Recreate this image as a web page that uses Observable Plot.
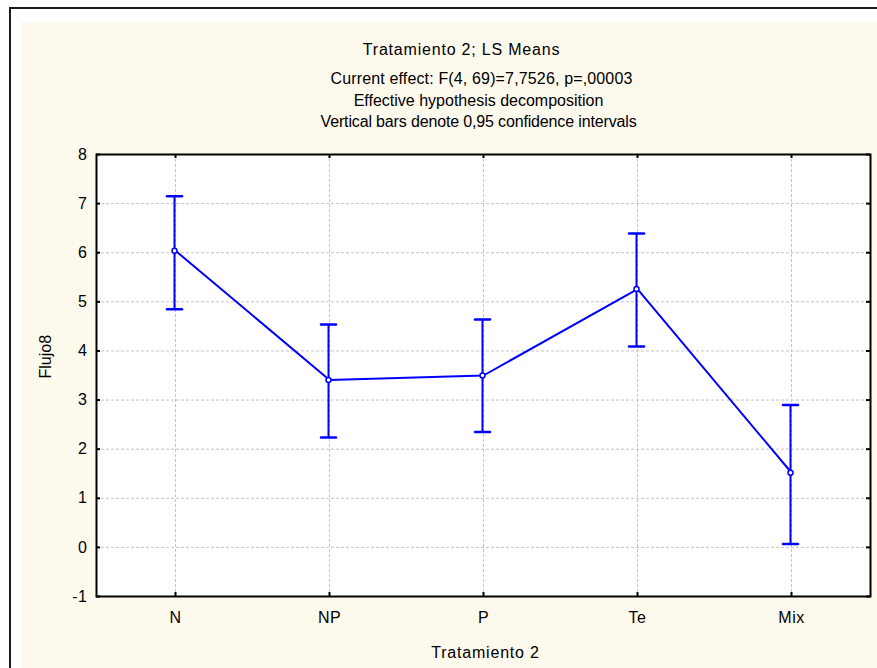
<!DOCTYPE html>
<html>
<head>
<meta charset="utf-8">
<script src="https://cdn.jsdelivr.net/npm/d3@7"></script>
<script src="https://cdn.jsdelivr.net/npm/@observablehq/plot@0.6"></script>
<style>
  html, body { margin: 0; padding: 0; overflow: hidden; background: white; }
  #wrap { position: relative; width: 877px; height: 668px; }
  #border { position: absolute; left: 9px; top: 7px; width: 900px; height: 700px;
            border-left: 2px solid #1a1a1a; border-top: 2px solid #1a1a1a; background: white; }
  #cream { position: absolute; left: 21px; top: 22px; width: 900px; height: 700px; background: #FEF9ED; }
  #chart { position: absolute; left: 0; top: 0; }
</style>
</head>
<body>
<div id="wrap">
  <div id="border"></div>
  <div id="cream"></div>
  <div id="chart"></div>
</div>
<script>
const categories = ["N", "NP", "P", "Te", "Mix"];
const means = [6.04, 3.41, 3.50, 5.26, 1.52];
const upper = [7.15, 4.54, 4.64, 6.39, 2.90];
const lower = [4.85, 2.24, 2.35, 4.09, 0.07];
const yTicks = [-1, 0, 1, 2, 3, 4, 5, 6, 7, 8];
const titleLines = [
  "Tratamiento 2; LS Means",
  "Current effect: F(4, 69)=7,7526, p=,00003",
  "Effective hypothesis decomposition",
  "Vertical bars denote 0,95 confidence intervals"
];
const xLabel = "Tratamiento 2";
const yLabel = "Flujo8";

const data = categories.map((c, i) => ({cat: c, mean: means[i], hi: upper[i], lo: lower[i]}));

const blue = "#0000FF";
const gridColor = "#c4c4c4";
const lineShape = {draw(ctx, l) { ctx.moveTo(0, 0); ctx.lineTo(0, -l); }};

const W = 877, H = 668, mT = 154, mL = 96, mR = 7, mB = 72;
const fw = W - mL - mR, fh = H - mT - mB;

const titleDx = [-22, -2, -5, -5];
const titleDy = [-100, -70.7, -49, -27.3];
const titleSpacing = [0.8, 0.15, 0, -0.15];

const chart = Plot.plot({
  width: W, height: H,
  marginTop: mT, marginLeft: mL, marginRight: mR, marginBottom: mB,
  style: {background: "transparent", fontFamily: "'Liberation Sans', Arial, sans-serif", fontSize: "16px", color: "black"},
  x: {type: "point", domain: categories, padding: 0.5, label: null},
  y: {domain: [-1, 8], ticks: yTicks, label: null},
  marks: [
    Plot.frame({fill: "white", stroke: null}),
    Plot.gridY(yTicks, {stroke: gridColor, strokeOpacity: 1, strokeDasharray: "3,2"}),
    Plot.gridX(categories, {stroke: gridColor, strokeOpacity: 1, strokeDasharray: "3,2"}),
    Plot.axisY(yTicks, {tickSize: 0, tickPadding: 9, fontSize: 16, label: null, tickFormat: d => String(d)}),
    Plot.axisX(categories, {tickSize: 0, tickPadding: 15, fontSize: 16, label: null}),
    Plot.tickY(yTicks, {y: d => d, stroke: "black", strokeWidth: 2, insetRight: fw - 4}),
    Plot.tickY(yTicks, {y: d => d, stroke: "black", strokeWidth: 2, insetLeft: fw - 4}),
    Plot.tickX(categories, {x: d => d, stroke: "black", strokeWidth: 2, insetBottom: fh - 4}),
    Plot.tickX(categories, {x: d => d, stroke: "black", strokeWidth: 2, insetTop: fh - 4}),
    Plot.frame({stroke: "black", strokeWidth: 2}),
    Plot.ruleX(data, {x: "cat", y1: "lo", y2: "hi", stroke: blue, strokeWidth: 2, dx: -1}),
    Plot.vector(data, {x: "cat", y: "hi", length: 15, rotate: 90, anchor: "middle", shape: lineShape, stroke: blue, strokeWidth: 2.5, dx: -1}),
    Plot.vector(data, {x: "cat", y: "lo", length: 15, rotate: 90, anchor: "middle", shape: lineShape, stroke: blue, strokeWidth: 2.5, dx: -1}),
    Plot.line(data, {x: "cat", y: "mean", stroke: blue, strokeWidth: 2}),
    Plot.dot(data, {x: "cat", y: "mean", r: 2.5, fill: "white", stroke: blue, strokeWidth: 1.5, dx: -1}),
    Plot.text(titleLines, {text: d => d, frameAnchor: "top", lineAnchor: "bottom", fontSize: 16, fill: "black"}),
    Plot.text([xLabel], {text: d => d, frameAnchor: "bottom", lineAnchor: "bottom", dy: 61, dx: 2, fontSize: 16, fill: "black"}),
    Plot.text([yLabel], {text: d => d, frameAnchor: "left", rotate: -90, dx: -51, dy: 3, fontSize: 16, fill: "black"})
  ]
});

// position title lines individually
const textGroups = chart.querySelectorAll("g[aria-label='text']");
textGroups[0].querySelectorAll("text").forEach((t, i) => {
  const tr = t.getAttribute("transform") || "";
  const m = /translate\(([-\d.]+),([-\d.]+)\)/.exec(tr);
  if (m) t.setAttribute("transform", `translate(${+m[1] + titleDx[i]},${+m[2] + titleDy[i]})`);
  t.setAttribute("letter-spacing", String(titleSpacing[i]));
});
textGroups[1].querySelectorAll("text").forEach(t => t.setAttribute("letter-spacing", "0.8"));
chart.querySelectorAll("g[aria-label='x-axis tick label'] text, g[aria-label='y-axis tick label'] text")
  .forEach(t => t.setAttribute("letter-spacing", "0.5"));
document.getElementById("chart").appendChild(chart);
</script>
</body>
</html>
